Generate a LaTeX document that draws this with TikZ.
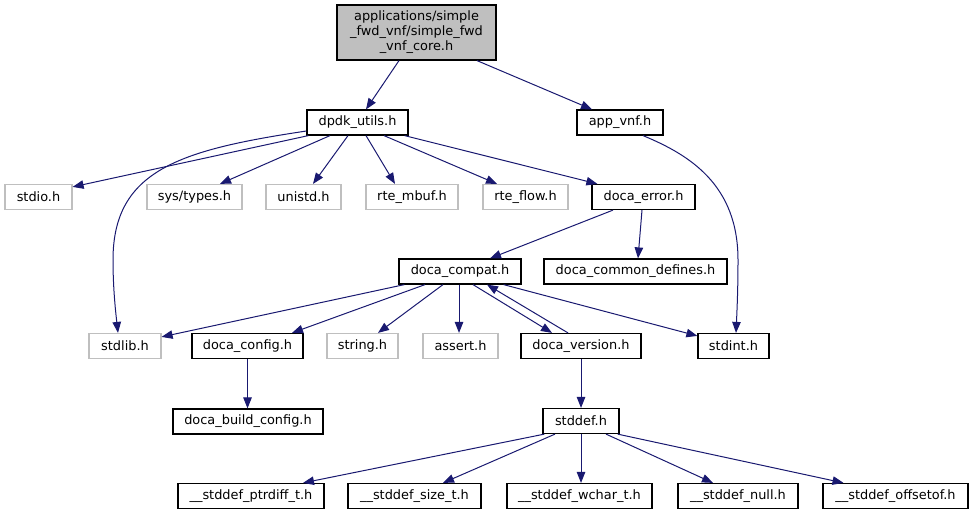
\documentclass[tikz,border=0pt]{standalone}
\usepackage{fontspec}
\setmainfont{DejaVu Sans}
\usetikzlibrary{arrows.meta,calc}
\definecolor{edgeblue}{HTML}{191970}
\definecolor{sysgray}{HTML}{BFBFBF}
\definecolor{rootfill}{HTML}{BFBFBF}
\tikzset{
  box/.style={rectangle, inner sep=0pt, minimum height=25pt, line width=1.2pt,
    font=\fontsize{12.9}{15}\selectfont, text=black},
  doc/.style={box, draw=black},
  sys/.style={box, draw=sysgray},
  edge/.style={draw=edgeblue, line width=1pt, -{Triangle[length=11pt,width=8.5pt]}}
}
\begin{document}
\begin{tikzpicture}[x=1pt,y=-1pt]
\useasboundingbox (0,0) rectangle (974,515);
% nodes
\node[doc, fill=rootfill, minimum width=159pt, minimum height=55pt, align=center] (root) at (416.5,32.5)
  {applications/simple\\\_fwd\_vnf/simple\_fwd\\\_vnf\_core.h};
\node[doc, minimum width=101pt] (dpdk) at (357.5,122.5) {dpdk\_utils.h};
\node[doc, minimum width=86pt] (appvnf) at (620,122.5) {app\_vnf.h};
\node[sys, minimum width=67pt] (stdio) at (38.5,197) {stdio.h};
\node[sys, minimum width=95pt] (systypes) at (194.5,197) {sys/types.h};
\node[sys, minimum width=75pt] (unistd) at (303.5,197) {unistd.h};
\node[sys, minimum width=92pt] (rtembuf) at (412,197) {rte\_mbuf.h};
\node[sys, minimum width=85pt] (rteflow) at (525.5,197) {rte\_flow.h};
\node[doc, minimum width=103pt] (docaerror) at (643.5,197) {doca\_error.h};
\node[doc, minimum width=122pt] (compat) at (460,271.5) {doca\_compat.h};
\node[doc, minimum width=183pt] (common) at (635.5,271.5) {doca\_common\_defines.h};
\node[sys, minimum width=72pt] (stdlib) at (125,346) {stdlib.h};
\node[doc, minimum width=111pt] (config) at (247.5,346) {doca\_config.h};
\node[sys, minimum width=71pt] (string) at (362.5,346) {string.h};
\node[sys, minimum width=75pt] (assert) at (460.5,346) {assert.h};
\node[doc, minimum width=120pt] (version) at (581,346) {doca\_version.h};
\node[doc, minimum width=71pt] (stdint) at (733.5,346) {stdint.h};
\node[doc, minimum width=150pt] (buildconfig) at (248,421.5) {doca\_build\_config.h};
\node[doc, minimum width=76pt] (stddef) at (581,421) {stddef.h};
\node[doc, minimum width=146pt] (ptrdiff) at (251,496) {\_\_stddef\_ptrdiff\_t.h};
\node[doc, minimum width=133pt] (sizet) at (414.5,496) {\_\_stddef\_size\_t.h};
\node[doc, minimum width=145pt] (wchar) at (579.5,496) {\_\_stddef\_wchar\_t.h};
\node[doc, minimum width=120pt] (null) at (738,496) {\_\_stddef\_null.h};
\node[doc, minimum width=145pt] (offsetof) at (895.5,496) {\_\_stddef\_offsetof.h};
% edges
\draw[edge] ($(root.south)+(-17.5,0)$) -- ($(dpdk.north)+(8.5,0)$);
\draw[edge] ($(root.south)+(60.5,0)$) -- ($(appvnf.north)+(-28,0)$);
\draw[edge] ($(dpdk.south west)+(2,0)$) -- ($(stdio.north east)+(0,3)$);
\draw[edge] ($(dpdk.west)+(0,8.5)$) .. controls (180,150) and (113,170) .. (113,260)
  .. controls (113,290) and (116,315) .. ($(stdlib.north)+(-7,0)$);
\draw[edge] ($(dpdk.south)+(-27.5,0)$) -- ($(systypes.north)+(25.5,0)$);
\draw[edge] ($(dpdk.south)+(-9.5,0)$) -- ($(unistd.north)+(9.5,0)$);
\draw[edge] ($(dpdk.south)+(8.5,0)$) -- ($(rtembuf.north)+(-17,0)$);
\draw[edge] ($(dpdk.south)+(26.5,0)$) -- ($(rteflow.north)+(-28.5,0)$);
\draw[edge] ($(dpdk.south east)+(-4,0)$) -- ($(docaerror.north west)+(6,0)$);
\draw[edge] ($(appvnf.south)+(23,0)$) .. controls (690,155) and (738,185) .. (738,260)
  .. controls (738,290) and (737,310) .. ($(stdint.north)+(2.5,0)$);
\draw[edge] ($(docaerror.south)+(-30.5,0)$) -- ($(compat.north)+(30,0)$);
\draw[edge] ($(docaerror.south)+(-1.5,0)$) -- ($(common.north)+(2.5,0)$);
\draw[edge] ($(compat.south west)+(6,0)$) -- ($(stdlib.north east)+(0,4)$);
\draw[edge] ($(compat.south)+(-35,0)$) -- ($(config.north)+(44.5,0)$);
\draw[edge] ($(compat.south)+(-17,0)$) -- ($(string.north)+(15.5,0)$);
\draw[edge] ($(compat.south)+(-1,0)$) -- ($(assert.north)+(-1.5,0)$);
\draw[edge] ($(compat.south)+(13,0)$) -- ($(version.north)+(-29,0)$);
\draw[edge] ($(version.north)+(-13,0)$) -- ($(compat.south)+(27,0)$);
\draw[edge] ($(compat.south east)+(-18,0)$) -- ($(stdint.north west)+(0,3)$);
\draw[edge] (config.south) -- ($(buildconfig.north)+(-0.5,0)$);
\draw[edge] (version.south) -- (stddef.north);
\draw[edge] ($(stddef.south west)+(2,0)$) -- ($(ptrdiff.north)+(52,0)$);
\draw[edge] ($(stddef.south)+(-26,0)$) -- ($(sizet.north)+(28.5,0)$);
\draw[edge] (stddef.south) -- ($(wchar.north)+(1.5,0)$);
\draw[edge] ($(stddef.south)+(25,0)$) -- ($(null.north)+(-25,0)$);
\draw[edge] ($(stddef.south east)+(-2,0)$) -- ($(offsetof.north)+(-52,0)$);
\end{tikzpicture}
\end{document}
